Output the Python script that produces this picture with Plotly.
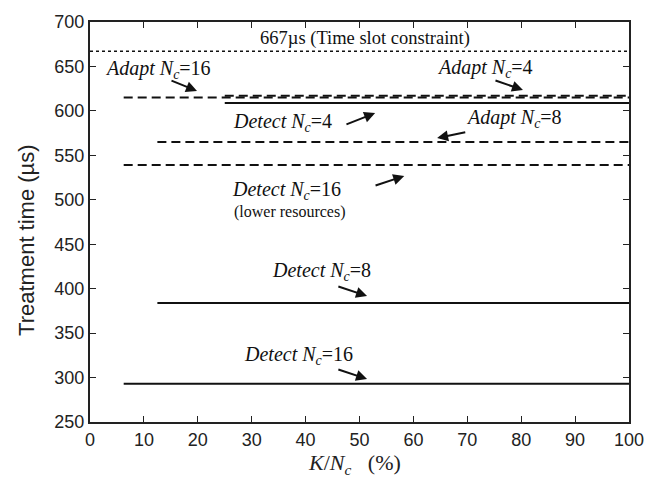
import plotly.graph_objects as go

# Data
series_names = ["Time slot", "Adapt Nc=16", "Adapt Nc=4", "Detect Nc=4", "Adapt Nc=8",
                "Detect Nc=16 (lower resources)", "Detect Nc=8", "Detect Nc=16"]
x_start = [0, 6.25, 25, 25, 12.5, 6.25, 12.5, 6.25]
x_end = [100, 100, 100, 100, 100, 100, 100, 100]
y_value = [667, 615, 617, 609, 565, 539, 384, 293]
line_dash = ["dot", "9px,5px", "9px,5px", "solid", "9px,5px", "9px,5px", "solid", "solid"]
line_width = [1.5, 2, 2, 2, 2, 2, 2, 2]

x_ticks = [0, 10, 20, 30, 40, 50, 60, 70, 80, 90, 100]
y_ticks = [250, 300, 350, 400, 450, 500, 550, 600, 650, 700]

# label texts and their positions (data coords)
label_text = ["667µs (Time slot constraint)",
              "<i>Adapt N<sub>c</sub></i>=16",
              "<i>Adapt N<sub>c</sub></i>=4",
              "<i>Detect N<sub>c</sub></i>=4",
              "<i>Adapt N<sub>c</sub></i>=8",
              "<i>Detect N<sub>c</sub></i>=16",
              "(lower resources)",
              "<i>Detect N<sub>c</sub></i>=8",
              "<i>Detect N<sub>c</sub></i>=16"]
label_x = [51.0, 12.6, 73.3, 35.8, 78.7, 36.5, 37.1, 43.0, 38.6]
label_y = [682, 647, 648, 587, 592, 510, 486.5, 419, 325]
label_size = [18.5, 20, 20, 20, 20, 20, 16, 20, 20]

# arrows: tail -> head
arrow_tail_x = [14.84, 74.95, 47.3, 69.9, 52.7, 45.8, 45.8]
arrow_tail_y = [634.75, 634.75, 584.1, 576.25, 515.5, 403, 309.6]
arrow_head_x = [19.85, 80.33, 52.9, 64.4, 58.3, 51.4, 51.4]
arrow_head_y = [622.4, 623.5, 597.6, 569.5, 526.75, 391.75, 298.4]

fig = go.Figure()
for i in range(len(series_names)):
    fig.add_trace(go.Scatter(
        x=[x_start[i], x_end[i]], y=[y_value[i], y_value[i]],
        mode="lines", name=series_names[i],
        line=dict(color="#111111", width=line_width[i], dash=line_dash[i]),
        showlegend=False, cliponaxis=False))

annotations = []
for t, x, y, s in zip(label_text, label_x, label_y, label_size):
    annotations.append(dict(x=x, y=y, text=t, showarrow=False,
                            font=dict(family="Liberation Serif", size=s, color="#111111"),
                            xanchor="center", yanchor="middle"))
for tx, ty, hx, hy in zip(arrow_tail_x, arrow_tail_y, arrow_head_x, arrow_head_y):
    annotations.append(dict(x=hx, y=hy, ax=tx, ay=ty, axref="x", ayref="y",
                            text="", showarrow=True, arrowhead=2, arrowsize=1.1,
                            arrowwidth=2, arrowcolor="#111111", standoff=0, startstandoff=0))

# axis titles as annotations for exact placement
annotations.append(dict(x=-0.117, y=0.455, xref="paper", yref="paper",
                        text="Treatment time (µs)", textangle=-90, showarrow=False,
                        font=dict(family="Liberation Sans", size=22, color="#222222"),
                        xanchor="center", yanchor="middle"))
annotations.append(dict(x=0.49, y=-0.0, xref="paper", yref="paper", yshift=-42,
                        text="<i>K</i>/<i>N<sub>c</sub></i>   (%)", showarrow=False,
                        font=dict(family="Liberation Serif", size=22, color="#222222"),
                        xanchor="center", yanchor="middle"))

fig.update_layout(
    width=662, height=484,
    margin=dict(l=90, r=33, t=22, b=62),
    paper_bgcolor="white", plot_bgcolor="white",
    annotations=annotations,
    font=dict(family="Liberation Sans", color="#222222"),
    xaxis=dict(range=[0, 100], tickvals=x_ticks, ticks="inside", ticklen=6,
               tickwidth=1, tickcolor="#222222", showline=True, linewidth=2,
               linecolor="#222222", mirror="ticks", showgrid=False, zeroline=False,
               tickfont=dict(size=18, family="Liberation Sans", color="#222222")),
    yaxis=dict(range=[250, 700], tickvals=y_ticks, ticks="inside", ticklen=6,
               tickwidth=1, tickcolor="#222222", showline=True, linewidth=2,
               linecolor="#222222", mirror="ticks", showgrid=False, zeroline=False,
               tickfont=dict(size=18, family="Liberation Sans", color="#222222")),
)

fig.write_html("out.html")
